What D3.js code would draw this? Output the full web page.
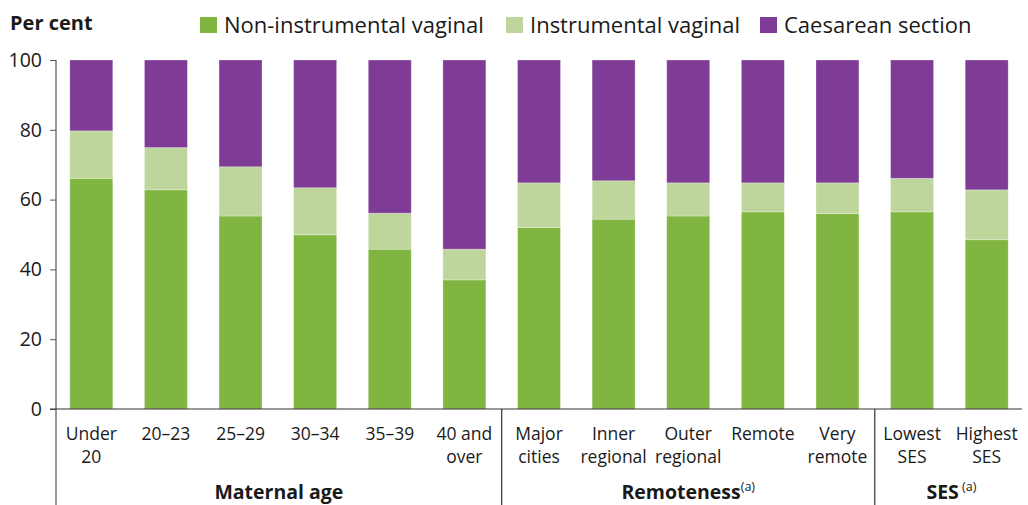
<!DOCTYPE html>
<html>
<head>
<meta charset="utf-8">
<script src="https://cdn.jsdelivr.net/npm/d3@7"></script>
<style>
  body { margin: 0; background: #fff; }
  svg { display: block; font-family: "Open Sans", "Noto Sans", sans-serif; }
</style>
</head>
<body>
<div id="chart"></div>
<script>
// Data
const categories = ['Under 20', '20–23', '25–29', '30–34', '35–39', '40 and over',
    'Major cities', 'Inner regional', 'Outer regional', 'Remote', 'Very remote',
    'Lowest SES', 'Highest SES'];
const labelLines = [['Under', '20'], ['20–23'], ['25–29'], ['30–34'], ['35–39'], ['40 and', 'over'],
    ['Major', 'cities'], ['Inner', 'regional'], ['Outer', 'regional'], ['Remote'], ['Very', 'remote'],
    ['Lowest', 'SES'], ['Highest', 'SES']];
const nonInstrumental = [66.1, 62.8, 55.3, 49.9, 45.8, 37.0, 52.0, 54.4, 55.3, 56.5, 56.0, 56.5, 48.5];
const instrumental = [13.6, 12.1, 14.1, 13.5, 10.3, 8.8, 12.8, 11.0, 9.5, 8.3, 8.8, 9.6, 14.3];
const caesarean = [20.3, 25.1, 30.6, 36.6, 43.9, 54.2, 35.2, 34.6, 35.2, 35.2, 35.2, 33.9, 37.2];
const seriesNames = ['Non-instrumental vaginal', 'Instrumental vaginal', 'Caesarean section'];
const seriesColors = ['#80b541', '#bed69b', '#7e3c96'];
const groupNames = ['Maternal age', 'Remoteness', 'SES'];
const groupSup = ['', '(a)', ' (a)'];
const groupStart = [0, 6, 11];
const groupEnd = [5, 10, 12];
const yTicks = [0, 20, 40, 60, 80, 100];

const width = 1028, height = 505;
const plotTop = 60, plotBottom = 409, axisX = 56;

const svg = d3.select('#chart').append('svg')
    .attr('width', width)
    .attr('height', height);

const x = d3.scaleBand()
    .domain(categories)
    .range([54, 1024])
    .paddingInner(0.424)
    .paddingOuter(0.212);

const y = d3.scaleLinear().domain([0, 100]).range([plotBottom, plotTop]);

// Stack the three series
const rows = categories.map((c, i) => ({
    cat: c,
    s0: nonInstrumental[i],
    s1: instrumental[i],
    s2: caesarean[i]
}));
const stack = d3.stack().keys(['s0', 's1', 's2'])(rows);

svg.append('g').selectAll('g')
    .data(stack)
    .enter()
    .append('g')
    .attr('fill', (d, i) => seriesColors[i])
    .selectAll('rect')
    .data(d => d)
    .enter()
    .append('rect')
    .attr('x', d => x(d.data.cat))
    .attr('width', x.bandwidth())
    .attr('y', d => y(d[1]))
    .attr('height', d => y(d[0]) - y(d[1]))
    .attr('stroke', '#fff')
    .attr('stroke-opacity', 0.35)
    .attr('stroke-width', 0.8);

// Y axis
const yAxis = svg.append('g')
    .attr('transform', `translate(${axisX},0)`)
    .call(d3.axisLeft(y).tickValues(yTicks).tickSize(6).tickPadding(8).tickSizeOuter(0));
yAxis.select('.domain').remove();
yAxis.selectAll('.tick line').attr('stroke', '#555');
yAxis.selectAll('.tick text')
    .style('font-size', '19.5px')
    .attr('fill', '#1a1a1a')
    .attr('font-family', '"Open Sans", sans-serif');

// axis lines
svg.append('line')
    .attr('x1', axisX).attr('x2', axisX)
    .attr('y1', plotTop).attr('y2', height)
    .attr('stroke', '#555').attr('stroke-width', 1.2);
svg.append('line')
    .attr('x1', axisX - 6).attr('x2', 1022)
    .attr('y1', plotBottom).attr('y2', plotBottom)
    .attr('stroke', '#333').attr('stroke-width', 1.2);

// group separators
const step = x.step();
const gap = (step - x.bandwidth()) / 2;
groupStart.slice(1).forEach(idx => {
    const sx = x(categories[idx]) - gap;
    svg.append('line')
        .attr('x1', sx).attr('x2', sx)
        .attr('y1', plotBottom).attr('y2', height)
        .attr('stroke', '#333').attr('stroke-width', 1.2);
});

// category labels
const catLabels = svg.append('g')
    .selectAll('text')
    .data(categories)
    .enter()
    .append('text')
    .attr('text-anchor', 'middle')
    .attr('fill', '#1a1a1a')
    .style('font-size', '17.5px')
    .attr('transform', d => `translate(${x(d) + x.bandwidth() / 2},440)`);
catLabels.selectAll('tspan')
    .data((d, i) => labelLines[i])
    .enter()
    .append('tspan')
    .attr('x', 0)
    .attr('dy', (d, i) => i === 0 ? 0 : 23)
    .text(d => d);

// group labels
groupNames.forEach((name, i) => {
    const left = i === 0 ? axisX : x(categories[groupStart[i]]) - gap;
    const right = i === groupNames.length - 1 ? width : x(categories[groupEnd[i]]) + x.bandwidth() + gap;
    const t = svg.append('text')
        .attr('x', (left + right) / 2)
        .attr('y', 499)
        .attr('text-anchor', 'middle')
        .attr('fill', '#1a1a1a')
        .style('font-size', '19.5px')
        .style('font-weight', 'bold')
        .text(name);
    if (groupSup[i]) {
        t.append('tspan')
            .attr('dy', -8)
            .style('font-size', '12.5px')
            .style('font-weight', 'normal')
            .text(groupSup[i]);
    }
});

// Per cent title
svg.append('text')
    .attr('x', 10).attr('y', 30)
    .attr('fill', '#1a1a1a')
    .style('font-size', '20px')
    .style('font-weight', 'bold')
    .text('Per cent');

// Legend
const legendX = [200, 506, 760];
const legend = svg.append('g').selectAll('g')
    .data(seriesNames)
    .enter()
    .append('g')
    .attr('transform', (d, i) => `translate(${legendX[i]},17)`);
legend.append('rect')
    .attr('width', 17).attr('height', 16)
    .attr('fill', (d, i) => seriesColors[i]);
legend.append('text')
    .attr('x', 24).attr('y', 16)
    .attr('fill', '#1a1a1a')
    .style('font-size', '22px')
    .text(d => d);
</script>
</body>
</html>
